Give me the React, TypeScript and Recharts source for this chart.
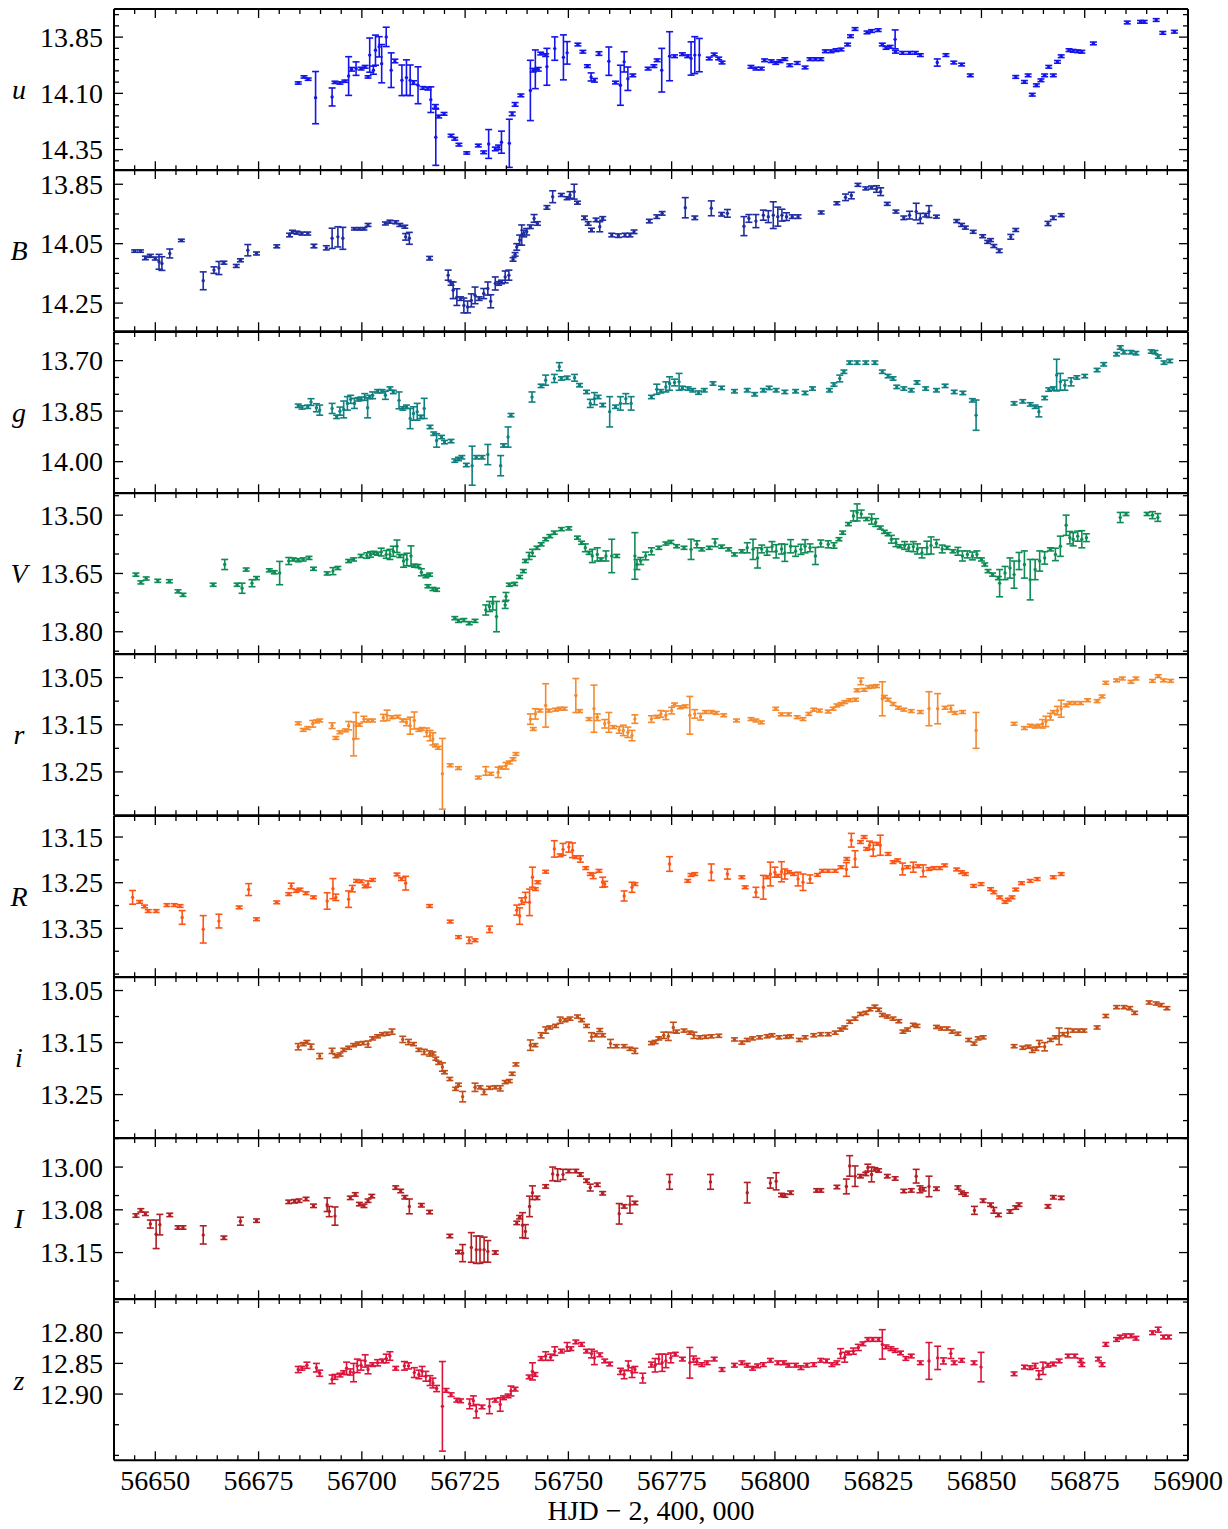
import React from 'react';
import { ScatterChart, Scatter, XAxis, YAxis, ErrorBar } from 'recharts';

type Obs = [number, number, number]; // [HJD-2400000, magnitude, error]

const uObs: Obs[] = [
  [56684.6,14.054,0.005],[56686.0,14.027,0.005],[56687.0,14.037,0.005],[56688.8,14.119,0.116],[56692.8,14.116,0.040],[56693.5,14.051,0.005],[56694.7,14.054,0.005],[56695.9,14.046,0.005],[56696.8,14.023,0.086],[56697.5,13.993,0.008],[56698.6,13.990,0.030],[56699.8,13.990,0.006],[56700.8,13.982,0.006],[56701.5,14.027,0.005],[56701.9,13.930,0.076],[56702.8,13.997,0.018],[56703.3,13.908,0.067],[56704.2,13.893,0.045],[56704.8,13.968,0.085],[56705.9,13.849,0.043],[56707.1,13.997,0.077],[56708.0,13.956,0.008],[56709.7,14.042,0.068],[56710.8,14.030,0.079],[56711.7,14.042,0.068],[56712.5,14.052,0.008],[56713.6,14.064,0.082],[56714.8,14.076,0.006],[56716.0,14.079,0.006],[56716.7,14.128,0.057],[56717.8,14.158,0.008],[56717.9,14.295,0.125],[56718.6,14.203,0.006],[56719.9,14.191,0.006],[56721.6,14.288,0.006],[56722.5,14.302,0.006],[56723.5,14.328,0.006],[56725.4,14.365,0.005],[56728.2,14.332,0.006],[56729.5,14.362,0.006],[56730.7,14.325,0.064],[56732.3,14.347,0.008],[56733.1,14.340,0.010],[56733.8,14.317,0.049],[56735.7,14.322,0.107],[56736.4,14.191,0.008],[56737.1,14.149,0.008],[56738.5,14.109,0.006],[56740.8,14.087,0.134],[56741.5,13.997,0.008],[56742.0,13.993,0.086],[56742.7,13.993,0.008],[56743.3,13.923,0.006],[56744.5,13.930,0.006],[56744.8,13.982,0.082],[56746.7,13.901,0.052],[56748.8,13.940,0.100],[56749.7,13.920,0.050],[56752.3,13.883,0.006],[56753.5,13.915,0.006],[56754.6,13.979,0.006],[56755.5,14.027,0.018],[56756.3,14.042,0.008],[56757.4,13.923,0.008],[56759.8,13.957,0.063],[56761.4,14.052,0.006],[56762.6,14.064,0.089],[56763.5,13.960,0.045],[56764.4,14.035,0.052],[56765.6,14.020,0.006],[56769.3,13.990,0.006],[56770.7,13.979,0.006],[56771.5,13.953,0.006],[56772.6,13.997,0.097],[56774.5,13.935,0.109],[56775.7,13.935,0.006],[56777.6,13.926,0.006],[56778.9,13.935,0.006],[56779.7,13.945,0.074],[56780.6,13.930,0.082],[56781.7,13.930,0.074],[56784.1,13.945,0.006],[56785.3,13.927,0.006],[56786.4,13.945,0.006],[56787.2,13.963,0.006],[56794.2,13.982,0.006],[56795.4,13.990,0.006],[56796.7,13.990,0.006],[56797.5,13.953,0.006],[56799.1,13.957,0.006],[56800.2,13.965,0.006],[56801.2,13.957,0.006],[56802.4,13.948,0.006],[56803.6,13.975,0.006],[56805.4,13.965,0.006],[56807.3,13.985,0.006],[56808.5,13.948,0.006],[56809.8,13.948,0.006],[56811.1,13.948,0.006],[56812.2,13.913,0.006],[56813.6,13.913,0.006],[56814.8,13.908,0.006],[56816.0,13.905,0.006],[56817.6,13.883,0.006],[56818.3,13.846,0.006],[56819.4,13.814,0.006],[56822.3,13.829,0.006],[56823.4,13.823,0.006],[56825.0,13.819,0.006],[56826.0,13.883,0.006],[56826.9,13.898,0.006],[56827.9,13.893,0.006],[56829.1,13.860,0.042],[56829.2,13.915,0.006],[56830.9,13.920,0.006],[56832.6,13.920,0.006],[56834.0,13.920,0.006],[56835.2,13.930,0.006],[56839.3,13.963,0.016],[56841.4,13.930,0.006],[56843.3,13.963,0.006],[56845.2,13.972,0.006],[56847.3,14.020,0.006],[56858.3,14.027,0.006],[56860.4,14.049,0.006],[56861.3,14.020,0.006],[56862.3,14.106,0.006],[56863.3,14.064,0.006],[56864.4,14.042,0.006],[56865.3,14.020,0.006],[56866.3,13.982,0.006],[56867.4,14.020,0.006],[56868.4,13.960,0.006],[56869.3,13.935,0.006],[56871.2,13.908,0.006],[56872.2,13.911,0.006],[56873.3,13.913,0.006],[56874.3,13.915,0.006],[56877.1,13.878,0.006],[56885.3,13.785,0.006],[56888.5,13.782,0.006],[56889.4,13.782,0.006],[56892.3,13.774,0.006],[56893.9,13.831,0.006],[56896.7,13.826,0.006],
];

const bObs: Obs[] = [
  [56645.0,14.075,0.004],[56646.4,14.075,0.004],[56647.6,14.098,0.006],[56648.8,14.091,0.005],[56650.0,14.100,0.005],[56650.9,14.111,0.025],[56651.6,14.117,0.023],[56653.5,14.083,0.015],[56656.3,14.039,0.004],[56661.6,14.175,0.030],[56664.2,14.139,0.011],[56665.4,14.132,0.022],[56666.6,14.114,0.005],[56669.6,14.125,0.005],[56670.6,14.106,0.005],[56672.4,14.072,0.019],[56674.5,14.083,0.005],[56679.4,14.059,0.005],[56682.5,14.021,0.006],[56683.2,14.010,0.005],[56684.3,14.013,0.005],[56685.5,14.016,0.005],[56686.9,14.016,0.005],[56688.4,14.058,0.006],[56691.4,14.064,0.007],[56692.8,14.032,0.034],[56694.2,14.027,0.034],[56695.4,14.032,0.037],[56698.2,14.000,0.004],[56699.4,14.000,0.004],[56700.5,14.000,0.004],[56701.5,13.987,0.005],[56705.7,13.982,0.005],[56706.8,13.976,0.005],[56708.2,13.978,0.005],[56709.2,13.987,0.005],[56710.4,13.993,0.005],[56710.6,14.027,0.011],[56711.5,14.032,0.020],[56716.4,14.099,0.006],[56720.9,14.156,0.017],[56721.6,14.184,0.006],[56722.1,14.207,0.028],[56723.0,14.230,0.028],[56723.9,14.235,0.006],[56724.7,14.258,0.025],[56725.6,14.263,0.020],[56726.5,14.241,0.022],[56727.4,14.224,0.028],[56728.4,14.235,0.006],[56729.5,14.218,0.017],[56730.5,14.201,0.022],[56731.2,14.244,0.022],[56732.3,14.184,0.022],[56733.1,14.184,0.006],[56733.8,14.179,0.006],[56734.7,14.162,0.020],[56735.6,14.156,0.017],[56736.6,14.103,0.006],[56737.1,14.086,0.006],[56737.5,14.061,0.011],[56738.2,14.038,0.017],[56738.7,14.021,0.034],[56739.2,14.016,0.011],[56739.9,14.010,0.011],[56740.8,13.993,0.006],[56741.7,13.965,0.013],[56742.5,13.982,0.006],[56744.8,13.928,0.006],[56746.2,13.892,0.020],[56748.3,13.886,0.005],[56749.7,13.897,0.005],[56750.4,13.886,0.011],[56751.4,13.875,0.025],[56752.2,13.912,0.005],[56753.9,13.963,0.006],[56754.8,13.982,0.006],[56755.6,14.004,0.006],[56756.7,13.970,0.006],[56757.6,13.993,0.017],[56758.3,13.965,0.006],[56760.5,14.021,0.006],[56762.1,14.023,0.006],[56763.7,14.021,0.006],[56764.9,14.021,0.006],[56765.9,14.010,0.006],[56769.6,13.974,0.006],[56771.4,13.959,0.006],[56772.7,13.948,0.006],[56778.3,13.929,0.034],[56780.6,13.963,0.006],[56784.6,13.931,0.025],[56787.1,13.951,0.006],[56788.5,13.948,0.013],[56792.5,13.991,0.032],[56793.7,13.965,0.013],[56795.4,13.974,0.022],[56797.2,13.954,0.017],[56798.4,13.959,0.020],[56799.6,13.954,0.045],[56800.7,13.959,0.032],[56801.7,13.954,0.020],[56802.8,13.959,0.013],[56804.2,13.959,0.006],[56805.6,13.959,0.006],[56811.2,13.945,0.005],[56815.0,13.914,0.005],[56817.1,13.894,0.011],[56818.5,13.888,0.011],[56820.1,13.852,0.005],[56822.0,13.864,0.005],[56823.4,13.861,0.005],[56824.6,13.866,0.011],[56825.6,13.875,0.013],[56827.2,13.916,0.005],[56829.3,13.942,0.005],[56831.2,13.963,0.006],[56832.6,13.954,0.013],[56834.2,13.942,0.028],[56835.2,13.965,0.017],[56836.5,13.954,0.006],[56837.3,13.942,0.020],[56839.1,13.959,0.005],[56844.0,13.974,0.005],[56845.2,13.987,0.005],[56846.1,13.996,0.005],[56848.0,14.010,0.005],[56850.3,14.025,0.005],[56851.5,14.044,0.005],[56852.2,14.038,0.005],[56853.0,14.058,0.005],[56854.3,14.074,0.006],[56857.1,14.027,0.008],[56858.3,14.004,0.005],[56866.1,13.982,0.007],[56867.4,13.963,0.006],[56869.3,13.954,0.005],
];

const gObs: Obs[] = [
  [56684.6,13.834,0.005],[56685.5,13.839,0.005],[56686.9,13.837,0.005],[56687.7,13.823,0.010],[56689.0,13.840,0.012],[56689.8,13.847,0.015],[56692.8,13.842,0.015],[56693.9,13.867,0.005],[56694.7,13.850,0.012],[56695.6,13.845,0.025],[56696.5,13.827,0.020],[56697.3,13.815,0.012],[56698.2,13.827,0.015],[56699.1,13.815,0.005],[56699.8,13.813,0.005],[56700.7,13.808,0.010],[56701.4,13.840,0.030],[56701.9,13.808,0.005],[56702.6,13.803,0.010],[56703.8,13.791,0.005],[56704.9,13.791,0.005],[56705.7,13.803,0.012],[56706.8,13.783,0.005],[56707.6,13.793,0.005],[56709.0,13.818,0.025],[56709.9,13.842,0.005],[56710.8,13.837,0.005],[56711.7,13.872,0.030],[56712.5,13.857,0.020],[56713.4,13.852,0.025],[56714.3,13.867,0.005],[56715.1,13.842,0.030],[56716.5,13.897,0.005],[56717.4,13.917,0.005],[56718.1,13.937,0.020],[56719.3,13.927,0.005],[56720.0,13.942,0.005],[56721.6,13.939,0.005],[56722.5,13.997,0.005],[56723.4,13.992,0.005],[56724.2,13.987,0.005],[56725.3,14.010,0.005],[56726.7,14.012,0.058],[56727.7,13.987,0.005],[56729.1,13.987,0.005],[56730.5,13.979,0.030],[56733.6,14.012,0.030],[56734.3,13.952,0.005],[56735.4,13.927,0.030],[56736.1,13.862,0.005],[56741.2,13.808,0.015],[56743.4,13.775,0.005],[56744.5,13.758,0.015],[56746.6,13.753,0.012],[56747.8,13.718,0.012],[56748.3,13.753,0.005],[56749.7,13.751,0.005],[56751.5,13.751,0.010],[56752.7,13.773,0.005],[56754.4,13.793,0.005],[56755.3,13.827,0.012],[56756.3,13.813,0.018],[56757.2,13.808,0.005],[56758.3,13.832,0.005],[56760.0,13.852,0.045],[56761.4,13.837,0.005],[56762.6,13.827,0.020],[56763.9,13.813,0.015],[56765.2,13.827,0.020],[56770.1,13.808,0.005],[56771.4,13.785,0.015],[56772.4,13.791,0.005],[56773.6,13.778,0.015],[56774.5,13.768,0.020],[56775.7,13.765,0.010],[56776.8,13.763,0.025],[56777.6,13.781,0.005],[56779.0,13.783,0.005],[56780.1,13.788,0.005],[56781.5,13.795,0.005],[56782.9,13.788,0.005],[56785.0,13.768,0.005],[56787.1,13.781,0.005],[56790.2,13.791,0.005],[56793.3,13.788,0.005],[56795.1,13.800,0.005],[56797.2,13.788,0.005],[56798.6,13.781,0.005],[56800.3,13.788,0.005],[56802.4,13.793,0.005],[56805.0,13.791,0.005],[56807.3,13.796,0.005],[56809.1,13.783,0.005],[56813.2,13.788,0.005],[56814.3,13.771,0.005],[56815.7,13.753,0.010],[56816.7,13.733,0.005],[56818.1,13.706,0.005],[56819.9,13.706,0.005],[56822.0,13.706,0.005],[56824.2,13.706,0.005],[56826.0,13.733,0.005],[56827.4,13.746,0.005],[56828.6,13.753,0.005],[56829.5,13.778,0.005],[56831.2,13.783,0.005],[56833.0,13.788,0.005],[56834.4,13.765,0.005],[56836.5,13.783,0.005],[56839.1,13.788,0.005],[56841.2,13.775,0.005],[56843.4,13.793,0.005],[56845.5,13.796,0.005],[56847.8,13.818,0.005],[56848.7,13.862,0.045],[56857.9,13.827,0.005],[56860.0,13.821,0.005],[56861.8,13.830,0.005],[56863.0,13.837,0.005],[56863.9,13.852,0.015],[56865.3,13.811,0.005],[56866.3,13.786,0.005],[56867.4,13.783,0.005],[56868.2,13.743,0.047],[56869.1,13.763,0.025],[56870.2,13.773,0.015],[56871.7,13.763,0.012],[56873.1,13.750,0.005],[56875.0,13.746,0.005],[56878.0,13.728,0.005],[56879.6,13.711,0.005],[56882.7,13.681,0.005],[56883.6,13.661,0.005],[56884.5,13.675,0.005],[56886.2,13.675,0.005],[56887.4,13.678,0.005],[56891.1,13.673,0.005],[56892.0,13.675,0.005],[56892.8,13.688,0.005],[56894.2,13.706,0.005],[56895.6,13.701,0.005],
];

const vObs: Obs[] = [
  [56645.3,13.653,0.004],[56646.5,13.673,0.004],[56647.8,13.663,0.004],[56650.6,13.669,0.004],[56653.4,13.670,0.004],[56655.5,13.696,0.004],[56656.7,13.705,0.004],[56664.0,13.679,0.004],[56666.8,13.627,0.013],[56669.8,13.679,0.004],[56671.0,13.688,0.013],[56672.0,13.640,0.004],[56673.4,13.675,0.009],[56674.5,13.662,0.004],[56677.6,13.642,0.004],[56678.8,13.647,0.004],[56680.1,13.649,0.030],[56682.3,13.618,0.009],[56683.4,13.614,0.004],[56684.6,13.616,0.004],[56685.8,13.614,0.004],[56687.2,13.610,0.004],[56688.3,13.638,0.004],[56691.6,13.650,0.004],[56693.0,13.644,0.009],[56694.2,13.636,0.004],[56696.8,13.618,0.004],[56698.0,13.614,0.004],[56699.8,13.605,0.004],[56701.2,13.604,0.007],[56702.1,13.601,0.007],[56702.9,13.597,0.004],[56703.8,13.599,0.004],[56704.7,13.595,0.010],[56705.9,13.601,0.010],[56706.8,13.601,0.013],[56707.6,13.593,0.013],[56708.5,13.580,0.016],[56709.2,13.605,0.004],[56710.1,13.618,0.016],[56710.9,13.614,0.016],[56711.9,13.605,0.026],[56712.7,13.630,0.004],[56713.6,13.631,0.004],[56714.4,13.647,0.009],[56715.5,13.657,0.004],[56716.4,13.653,0.004],[56716.0,13.683,0.004],[56717.2,13.690,0.004],[56718.1,13.692,0.004],[56722.5,13.765,0.004],[56723.4,13.772,0.004],[56724.7,13.770,0.004],[56726.0,13.778,0.004],[56727.4,13.772,0.004],[56730.0,13.744,0.013],[56730.9,13.735,0.013],[56731.7,13.727,0.017],[56732.6,13.761,0.039],[56734.7,13.731,0.009],[56734.9,13.709,0.010],[56735.7,13.679,0.004],[56737.0,13.677,0.004],[56738.2,13.659,0.004],[56739.1,13.644,0.004],[56739.6,13.618,0.004],[56740.5,13.605,0.009],[56741.3,13.597,0.009],[56742.4,13.584,0.004],[56743.4,13.575,0.004],[56744.5,13.562,0.004],[56745.5,13.554,0.004],[56746.6,13.545,0.004],[56748.3,13.536,0.004],[56750.1,13.534,0.004],[56752.2,13.558,0.004],[56753.2,13.571,0.004],[56754.1,13.584,0.010],[56755.0,13.597,0.004],[56755.8,13.605,0.017],[56757.0,13.601,0.017],[56757.9,13.614,0.004],[56759.1,13.605,0.013],[56760.5,13.605,0.043],[56761.7,13.605,0.004],[56766.1,13.605,0.060],[56766.6,13.627,0.013],[56767.5,13.618,0.009],[56768.7,13.605,0.010],[56770.1,13.593,0.009],[56771.9,13.584,0.004],[56773.6,13.573,0.004],[56774.8,13.569,0.004],[56776.2,13.580,0.004],[56778.0,13.584,0.004],[56779.7,13.588,0.026],[56781.1,13.575,0.009],[56782.3,13.588,0.004],[56784.1,13.584,0.004],[56785.5,13.571,0.010],[56787.1,13.581,0.004],[56788.8,13.588,0.004],[56790.2,13.601,0.004],[56792.0,13.593,0.004],[56793.3,13.584,0.013],[56794.7,13.588,0.026],[56795.8,13.610,0.026],[56796.8,13.587,0.010],[56798.1,13.593,0.010],[56799.3,13.581,0.013],[56800.3,13.593,0.017],[56801.6,13.587,0.013],[56802.4,13.597,0.022],[56803.8,13.580,0.017],[56805.0,13.593,0.013],[56806.3,13.588,0.013],[56807.3,13.580,0.017],[56808.5,13.584,0.010],[56809.8,13.605,0.022],[56811.1,13.573,0.009],[56812.9,13.575,0.009],[56814.3,13.578,0.007],[56815.5,13.562,0.004],[56816.4,13.545,0.004],[56817.8,13.523,0.004],[56819.0,13.502,0.013],[56819.9,13.493,0.022],[56820.9,13.497,0.010],[56822.2,13.510,0.004],[56823.4,13.510,0.013],[56824.4,13.519,0.010],[56825.5,13.532,0.004],[56826.5,13.543,0.004],[56827.4,13.549,0.004],[56828.2,13.562,0.010],[56829.3,13.571,0.010],[56830.3,13.580,0.004],[56831.4,13.578,0.010],[56832.4,13.584,0.009],[56833.5,13.581,0.013],[56834.5,13.587,0.013],[56835.6,13.597,0.013],[56836.8,13.584,0.017],[56837.8,13.578,0.022],[56839.1,13.573,0.010],[56840.5,13.587,0.010],[56841.7,13.584,0.004],[56843.1,13.593,0.004],[56844.3,13.593,0.010],[56845.4,13.605,0.013],[56846.6,13.601,0.009],[56847.8,13.605,0.010],[56848.9,13.601,0.009],[56850.0,13.614,0.004],[56850.8,13.627,0.004],[56851.6,13.644,0.004],[56852.7,13.653,0.004],[56854.1,13.662,0.004],[56854.4,13.675,0.035],[56855.7,13.649,0.017],[56856.9,13.636,0.026],[56857.9,13.653,0.035],[56859.1,13.618,0.022],[56860.4,13.627,0.035],[56861.8,13.666,0.052],[56863.0,13.640,0.026],[56864.1,13.618,0.026],[56865.3,13.610,0.016],[56866.7,13.588,0.004],[56867.9,13.601,0.016],[56869.1,13.580,0.026],[56870.5,13.526,0.026],[56871.4,13.558,0.016],[56872.2,13.562,0.017],[56873.3,13.554,0.013],[56874.3,13.562,0.022],[56875.4,13.558,0.010],[56883.6,13.506,0.013],[56885.0,13.497,0.004],[56890.1,13.497,0.004],[56891.4,13.500,0.009],[56892.7,13.506,0.010],
];

const rObs: Obs[] = [
  [56684.6,13.147,0.003],[56685.8,13.161,0.003],[56686.9,13.157,0.003],[56688.1,13.148,0.007],[56689.0,13.143,0.003],[56689.8,13.141,0.003],[56692.8,13.152,0.006],[56693.7,13.178,0.003],[56694.7,13.166,0.003],[56696.0,13.162,0.003],[56696.8,13.152,0.009],[56698.0,13.180,0.036],[56698.6,13.152,0.028],[56699.4,13.150,0.003],[56700.5,13.138,0.006],[56701.5,13.141,0.003],[56702.6,13.141,0.003],[56705.2,13.135,0.007],[56706.1,13.130,0.011],[56707.3,13.134,0.003],[56708.7,13.133,0.003],[56709.9,13.141,0.003],[56710.8,13.145,0.007],[56711.7,13.152,0.018],[56712.7,13.141,0.018],[56713.8,13.161,0.003],[56714.6,13.159,0.003],[56715.7,13.166,0.009],[56716.5,13.173,0.011],[56717.2,13.180,0.013],[56717.8,13.194,0.003],[56718.5,13.199,0.003],[56719.5,13.254,0.075],[56721.4,13.236,0.003],[56723.4,13.242,0.003],[56728.2,13.262,0.003],[56730.0,13.248,0.009],[56731.2,13.254,0.003],[56733.0,13.251,0.011],[56733.8,13.241,0.003],[56734.9,13.237,0.007],[56735.7,13.230,0.003],[56736.6,13.223,0.003],[56737.3,13.212,0.003],[56740.8,13.138,0.011],[56741.5,13.159,0.003],[56742.0,13.127,0.011],[56743.1,13.120,0.003],[56744.5,13.109,0.046],[56745.3,13.120,0.003],[56746.9,13.118,0.003],[56748.0,13.116,0.003],[56749.0,13.116,0.003],[56751.8,13.088,0.036],[56752.7,13.121,0.003],[56755.0,13.138,0.003],[56756.2,13.116,0.050],[56757.0,13.134,0.007],[56758.8,13.148,0.009],[56759.8,13.145,0.021],[56760.9,13.155,0.003],[56762.3,13.161,0.007],[56763.3,13.162,0.011],[56764.4,13.166,0.011],[56765.4,13.173,0.011],[56766.1,13.138,0.009],[56770.1,13.138,0.007],[56771.4,13.133,0.003],[56772.4,13.127,0.007],[56773.6,13.130,0.009],[56775.0,13.120,0.007],[56775.7,13.107,0.003],[56777.1,13.113,0.003],[56778.3,13.111,0.003],[56779.4,13.130,0.040],[56780.6,13.127,0.009],[56782.0,13.133,0.007],[56783.2,13.123,0.003],[56784.6,13.123,0.003],[56785.8,13.125,0.003],[56787.6,13.130,0.003],[56790.7,13.141,0.003],[56794.2,13.138,0.003],[56795.4,13.141,0.003],[56796.7,13.145,0.003],[56800.2,13.116,0.003],[56801.6,13.128,0.003],[56803.3,13.128,0.003],[56805.4,13.134,0.003],[56806.8,13.138,0.003],[56808.2,13.127,0.003],[56809.4,13.118,0.003],[56810.8,13.120,0.003],[56812.9,13.122,0.003],[56814.1,13.116,0.003],[56815.0,13.109,0.003],[56816.0,13.106,0.003],[56816.9,13.102,0.003],[56818.1,13.098,0.003],[56819.5,13.097,0.003],[56819.9,13.077,0.003],[56820.8,13.058,0.007],[56821.6,13.076,0.003],[56822.7,13.070,0.003],[56823.7,13.069,0.003],[56824.6,13.068,0.003],[56826.0,13.095,0.036],[56826.5,13.091,0.003],[56827.4,13.097,0.003],[56828.6,13.106,0.003],[56829.9,13.114,0.003],[56831.2,13.118,0.003],[56833.0,13.121,0.003],[56835.2,13.123,0.003],[56837.3,13.116,0.036],[56839.4,13.116,0.032],[56841.2,13.114,0.003],[56842.6,13.116,0.007],[56843.6,13.125,0.003],[56845.4,13.123,0.003],[56848.7,13.162,0.038],[56857.9,13.148,0.003],[56860.4,13.157,0.003],[56861.8,13.152,0.003],[56863.0,13.154,0.003],[56863.9,13.152,0.003],[56864.8,13.148,0.009],[56865.6,13.143,0.011],[56866.7,13.133,0.007],[56867.4,13.123,0.003],[56868.4,13.120,0.009],[56869.3,13.116,0.018],[56870.5,13.109,0.003],[56871.4,13.104,0.003],[56872.6,13.104,0.003],[56874.0,13.104,0.003],[56875.7,13.098,0.003],[56878.0,13.100,0.003],[56879.2,13.090,0.003],[56880.1,13.061,0.003],[56882.7,13.056,0.003],[56884.1,13.052,0.003],[56886.2,13.059,0.003],[56887.4,13.052,0.003],[56891.4,13.057,0.003],[56892.8,13.047,0.003],[56894.1,13.056,0.003],[56895.8,13.057,0.003],
];

const bigRObs: Obs[] = [
  [56644.5,13.282,0.015],[56646.2,13.292,0.003],[56647.4,13.302,0.003],[56648.3,13.312,0.003],[56650.2,13.312,0.003],[56652.8,13.299,0.003],[56654.6,13.299,0.003],[56656.0,13.301,0.003],[56656.5,13.326,0.015],[56661.6,13.352,0.030],[56665.4,13.334,0.015],[56670.3,13.304,0.003],[56672.6,13.265,0.013],[56674.5,13.330,0.003],[56679.4,13.293,0.003],[56682.3,13.275,0.003],[56682.9,13.257,0.006],[56684.1,13.268,0.003],[56685.0,13.265,0.003],[56686.5,13.273,0.003],[56688.3,13.282,0.003],[56691.6,13.290,0.018],[56693.0,13.263,0.022],[56693.7,13.282,0.007],[56696.8,13.286,0.018],[56697.7,13.263,0.007],[56698.7,13.246,0.003],[56699.8,13.247,0.003],[56700.8,13.258,0.003],[56701.5,13.253,0.007],[56702.6,13.244,0.003],[56708.5,13.232,0.003],[56709.6,13.242,0.003],[56710.6,13.251,0.015],[56716.4,13.301,0.003],[56721.4,13.335,0.003],[56723.4,13.369,0.003],[56726.0,13.376,0.007],[56727.4,13.376,0.003],[56730.9,13.352,0.007],[56737.5,13.310,0.011],[56738.2,13.323,0.018],[56738.7,13.290,0.007],[56739.6,13.282,0.011],[56740.6,13.293,0.029],[56741.3,13.238,0.022],[56742.0,13.264,0.003],[56742.6,13.249,0.003],[56744.5,13.226,0.003],[56746.6,13.176,0.018],[56748.0,13.190,0.003],[56748.7,13.177,0.013],[56750.1,13.172,0.011],[56751.0,13.179,0.016],[56751.8,13.194,0.003],[56752.9,13.198,0.007],[56754.2,13.218,0.003],[56755.3,13.231,0.003],[56756.0,13.235,0.006],[56757.4,13.224,0.003],[56758.3,13.249,0.011],[56758.8,13.253,0.006],[56763.5,13.279,0.011],[56765.4,13.260,0.011],[56766.1,13.253,0.003],[56774.5,13.209,0.016],[56778.9,13.246,0.003],[56779.7,13.233,0.003],[56780.6,13.231,0.003],[56784.6,13.227,0.018],[56788.5,13.231,0.011],[56792.0,13.238,0.003],[56792.8,13.260,0.003],[56795.4,13.271,0.011],[56797.2,13.260,0.026],[56798.1,13.238,0.003],[56798.9,13.231,0.026],[56800.0,13.227,0.011],[56800.7,13.235,0.003],[56801.6,13.226,0.022],[56802.4,13.231,0.011],[56803.3,13.227,0.003],[56804.5,13.231,0.003],[56805.6,13.242,0.015],[56806.8,13.249,0.018],[56808.5,13.242,0.009],[56810.3,13.233,0.003],[56811.5,13.224,0.003],[56812.9,13.224,0.003],[56814.6,13.224,0.003],[56816.0,13.216,0.003],[56817.4,13.198,0.003],[56817.3,13.221,0.015],[56818.5,13.157,0.015],[56819.4,13.198,0.018],[56820.7,13.161,0.003],[56821.6,13.150,0.003],[56822.2,13.176,0.003],[56822.9,13.168,0.009],[56823.8,13.177,0.015],[56824.8,13.165,0.003],[56825.5,13.168,0.022],[56827.4,13.187,0.003],[56828.6,13.205,0.003],[56829.7,13.201,0.003],[56830.9,13.220,0.013],[56832.1,13.216,0.003],[56833.5,13.216,0.011],[56834.7,13.214,0.003],[56835.9,13.224,0.013],[56837.3,13.220,0.003],[56838.5,13.218,0.003],[56839.9,13.218,0.003],[56841.1,13.212,0.003],[56844.0,13.221,0.003],[56845.2,13.227,0.003],[56846.1,13.231,0.003],[56848.1,13.257,0.003],[56849.9,13.253,0.003],[56852.2,13.264,0.003],[56853.0,13.271,0.003],[56854.4,13.282,0.003],[56855.7,13.292,0.003],[56856.5,13.287,0.003],[56857.4,13.282,0.003],[56858.3,13.265,0.003],[56859.7,13.251,0.003],[56861.8,13.246,0.003],[56863.5,13.242,0.003],[56867.4,13.238,0.003],[56869.3,13.231,0.003],
];

const iObs: Obs[] = [
  [56684.6,13.158,0.006],[56685.8,13.153,0.003],[56686.7,13.149,0.003],[56687.7,13.158,0.005],[56689.8,13.176,0.005],[56692.8,13.166,0.005],[56693.7,13.176,0.003],[56694.7,13.173,0.003],[56695.6,13.164,0.003],[56696.8,13.160,0.003],[56698.0,13.155,0.003],[56699.1,13.152,0.003],[56700.3,13.151,0.003],[56701.5,13.153,0.006],[56702.6,13.142,0.003],[56703.8,13.138,0.003],[56705.0,13.134,0.003],[56706.1,13.133,0.003],[56707.3,13.129,0.005],[56709.9,13.144,0.006],[56711.3,13.149,0.005],[56712.5,13.153,0.003],[56713.8,13.164,0.003],[56715.1,13.168,0.005],[56716.4,13.171,0.005],[56717.2,13.171,0.003],[56717.9,13.181,0.003],[56718.6,13.189,0.003],[56719.5,13.197,0.008],[56720.0,13.207,0.003],[56721.3,13.220,0.003],[56722.7,13.239,0.003],[56723.4,13.231,0.003],[56724.4,13.254,0.010],[56727.4,13.236,0.008],[56728.6,13.236,0.003],[56729.6,13.245,0.005],[56730.9,13.237,0.003],[56732.3,13.236,0.003],[56733.5,13.238,0.005],[56734.7,13.226,0.003],[56735.7,13.224,0.003],[56736.4,13.210,0.003],[56737.3,13.192,0.003],[56740.8,13.155,0.010],[56741.9,13.155,0.003],[56743.4,13.136,0.005],[56744.5,13.126,0.006],[56745.5,13.121,0.003],[56746.9,13.118,0.003],[56748.0,13.107,0.006],[56749.2,13.107,0.003],[56750.4,13.104,0.003],[56752.2,13.100,0.003],[56753.2,13.107,0.003],[56754.4,13.118,0.003],[56755.6,13.139,0.008],[56756.7,13.136,0.003],[56757.6,13.126,0.003],[56758.3,13.136,0.003],[56760.2,13.152,0.008],[56761.6,13.157,0.003],[56763.5,13.157,0.003],[56764.9,13.162,0.003],[56766.1,13.166,0.005],[56770.1,13.151,0.003],[56771.0,13.149,0.003],[56771.9,13.142,0.003],[56773.1,13.136,0.006],[56774.2,13.138,0.008],[56775.4,13.121,0.010],[56776.2,13.129,0.003],[56778.0,13.127,0.003],[56779.4,13.131,0.003],[56780.4,13.136,0.006],[56781.8,13.140,0.003],[56783.2,13.139,0.003],[56784.6,13.138,0.003],[56786.4,13.137,0.003],[56790.2,13.144,0.003],[56792.0,13.150,0.003],[56793.3,13.145,0.003],[56794.6,13.142,0.003],[56796.3,13.140,0.003],[56798.1,13.138,0.003],[56799.3,13.136,0.003],[56801.0,13.140,0.003],[56802.8,13.139,0.003],[56803.8,13.138,0.003],[56805.9,13.145,0.003],[56807.3,13.140,0.003],[56809.4,13.136,0.003],[56811.1,13.134,0.003],[56812.9,13.134,0.003],[56814.6,13.131,0.003],[56815.9,13.125,0.003],[56816.9,13.121,0.003],[56818.1,13.110,0.003],[56819.4,13.104,0.003],[56820.7,13.095,0.003],[56822.0,13.093,0.003],[56823.0,13.086,0.003],[56824.2,13.081,0.003],[56825.1,13.087,0.003],[56826.0,13.097,0.003],[56827.2,13.100,0.003],[56828.6,13.104,0.003],[56830.0,13.109,0.003],[56831.0,13.129,0.003],[56832.1,13.125,0.003],[56833.5,13.116,0.003],[56834.4,13.118,0.003],[56839.1,13.120,0.003],[56840.3,13.123,0.003],[56841.7,13.123,0.003],[56842.9,13.129,0.003],[56844.3,13.133,0.003],[56846.9,13.145,0.003],[56848.2,13.152,0.003],[56849.2,13.142,0.003],[56850.4,13.140,0.003],[56857.9,13.157,0.003],[56860.0,13.160,0.003],[56861.3,13.158,0.003],[56862.3,13.164,0.005],[56863.2,13.162,0.003],[56864.0,13.152,0.006],[56865.3,13.158,0.008],[56866.7,13.145,0.003],[56867.9,13.140,0.003],[56868.8,13.138,0.016],[56869.8,13.134,0.003],[56870.9,13.131,0.008],[56872.2,13.127,0.003],[56873.6,13.127,0.003],[56874.8,13.127,0.003],[56878.0,13.121,0.003],[56880.1,13.099,0.003],[56882.7,13.082,0.003],[56884.5,13.082,0.003],[56885.9,13.084,0.003],[56887.1,13.093,0.003],[56890.6,13.073,0.003],[56892.3,13.075,0.003],[56893.5,13.078,0.003],[56894.9,13.084,0.003],
];

const bigIObs: Obs[] = [
  [56645.3,13.085,0.003],[56646.5,13.076,0.003],[56647.6,13.082,0.003],[56648.8,13.100,0.007],[56650.2,13.118,0.025],[56651.1,13.101,0.018],[56653.5,13.084,0.003],[56655.5,13.106,0.003],[56656.7,13.106,0.003],[56661.6,13.119,0.016],[56666.6,13.124,0.003],[56670.6,13.095,0.007],[56674.5,13.094,0.003],[56682.3,13.061,0.003],[56683.7,13.060,0.003],[56684.8,13.059,0.003],[56686.5,13.056,0.003],[56688.3,13.068,0.003],[56691.6,13.066,0.012],[56692.1,13.078,0.009],[56693.5,13.086,0.016],[56697.2,13.054,0.003],[56698.4,13.048,0.003],[56699.4,13.065,0.003],[56700.5,13.068,0.003],[56701.5,13.059,0.003],[56702.4,13.051,0.003],[56708.2,13.036,0.003],[56709.4,13.042,0.003],[56710.4,13.053,0.003],[56711.5,13.069,0.013],[56714.4,13.067,0.003],[56716.4,13.079,0.003],[56721.3,13.121,0.003],[56723.4,13.149,0.003],[56724.4,13.151,0.015],[56726.5,13.141,0.026],[56727.7,13.145,0.024],[56728.6,13.145,0.024],[56729.6,13.145,0.022],[56730.5,13.148,0.019],[56732.3,13.150,0.003],[56737.5,13.098,0.003],[56738.2,13.088,0.003],[56738.9,13.102,0.022],[56739.6,13.113,0.012],[56740.6,13.069,0.018],[56741.3,13.045,0.012],[56742.4,13.054,0.003],[56744.5,13.034,0.003],[56746.2,13.012,0.012],[56747.4,13.014,0.011],[56748.7,13.013,0.009],[56750.1,13.007,0.003],[56751.8,13.007,0.003],[56752.9,13.013,0.003],[56754.4,13.024,0.003],[56755.3,13.036,0.006],[56757.0,13.031,0.003],[56758.3,13.046,0.003],[56762.3,13.082,0.018],[56763.5,13.069,0.003],[56764.9,13.066,0.015],[56766.1,13.063,0.003],[56774.5,13.026,0.013],[56784.4,13.026,0.013],[56793.3,13.045,0.018],[56798.9,13.028,0.009],[56800.3,13.025,0.015],[56801.6,13.049,0.003],[56802.4,13.050,0.003],[56803.8,13.045,0.003],[56810.1,13.041,0.003],[56811.1,13.041,0.003],[56815.0,13.035,0.003],[56817.3,13.034,0.013],[56818.1,12.998,0.018],[56819.4,13.016,0.018],[56820.7,13.016,0.003],[56822.0,13.012,0.003],[56822.5,13.001,0.006],[56823.4,13.013,0.013],[56824.2,13.004,0.003],[56825.1,13.006,0.003],[56827.2,13.016,0.003],[56829.1,13.020,0.003],[56831.2,13.042,0.003],[56833.0,13.041,0.003],[56834.2,13.016,0.012],[56835.1,13.039,0.006],[56835.9,13.039,0.003],[56837.3,13.034,0.018],[56839.1,13.038,0.003],[56844.3,13.036,0.003],[56845.2,13.045,0.003],[56846.1,13.048,0.003],[56848.3,13.076,0.007],[56850.4,13.059,0.003],[56852.2,13.066,0.003],[56853.0,13.076,0.005],[56854.1,13.084,0.003],[56856.9,13.078,0.003],[56858.3,13.071,0.003],[56859.1,13.066,0.003],[56866.1,13.069,0.003],[56867.4,13.053,0.003],[56869.3,13.054,0.003],
];

const zObs: Obs[] = [
  [56684.6,12.860,0.005],[56685.5,12.858,0.003],[56686.7,12.853,0.005],[56689.0,12.857,0.007],[56689.8,12.866,0.005],[56692.8,12.876,0.007],[56693.5,12.872,0.004],[56694.7,12.869,0.003],[56695.6,12.865,0.003],[56696.3,12.858,0.010],[56697.2,12.864,0.005],[56698.0,12.865,0.015],[56698.9,12.854,0.011],[56699.8,12.853,0.008],[56700.8,12.846,0.010],[56701.5,12.860,0.007],[56702.6,12.852,0.003],[56703.8,12.849,0.005],[56705.0,12.846,0.003],[56705.9,12.842,0.007],[56706.8,12.838,0.007],[56708.2,12.858,0.003],[56710.3,12.854,0.007],[56711.3,12.854,0.005],[56712.7,12.865,0.008],[56713.8,12.868,0.007],[56714.6,12.863,0.008],[56715.5,12.871,0.008],[56716.5,12.878,0.008],[56717.2,12.882,0.008],[56718.1,12.891,0.005],[56719.5,12.920,0.073],[56720.4,12.894,0.003],[56721.6,12.901,0.003],[56723.0,12.910,0.003],[56723.9,12.911,0.003],[56726.1,12.916,0.008],[56727.0,12.911,0.008],[56727.7,12.928,0.011],[56729.1,12.921,0.003],[56730.9,12.920,0.012],[56732.3,12.910,0.003],[56733.5,12.917,0.011],[56734.3,12.906,0.003],[56735.4,12.903,0.003],[56736.1,12.895,0.008],[56737.1,12.892,0.003],[56740.5,12.872,0.003],[56741.3,12.863,0.014],[56741.9,12.868,0.003],[56743.4,12.842,0.003],[56744.5,12.838,0.007],[56745.7,12.840,0.005],[56746.7,12.830,0.007],[56748.3,12.830,0.003],[56749.7,12.823,0.007],[56750.6,12.826,0.003],[56751.8,12.815,0.003],[56753.2,12.819,0.003],[56754.4,12.830,0.003],[56755.6,12.834,0.007],[56756.3,12.841,0.011],[56757.6,12.836,0.003],[56758.8,12.846,0.003],[56760.0,12.851,0.003],[56762.6,12.863,0.005],[56763.5,12.868,0.007],[56764.5,12.854,0.008],[56765.4,12.865,0.008],[56766.1,12.860,0.005],[56768.0,12.874,0.008],[56770.1,12.852,0.004],[56771.0,12.853,0.011],[56771.9,12.843,0.008],[56772.7,12.849,0.014],[56773.6,12.846,0.011],[56774.8,12.841,0.008],[56775.9,12.835,0.003],[56777.6,12.843,0.003],[56779.4,12.849,0.025],[56780.3,12.843,0.005],[56781.1,12.847,0.005],[56782.3,12.852,0.003],[56783.6,12.849,0.003],[56785.3,12.843,0.003],[56787.2,12.860,0.003],[56790.2,12.853,0.003],[56792.0,12.849,0.003],[56793.3,12.853,0.003],[56794.6,12.858,0.003],[56795.8,12.854,0.003],[56797.2,12.852,0.003],[56798.9,12.845,0.003],[56800.7,12.849,0.003],[56802.1,12.849,0.003],[56803.3,12.853,0.003],[56805.0,12.853,0.003],[56806.3,12.857,0.003],[56807.7,12.853,0.003],[56809.4,12.852,0.003],[56811.1,12.845,0.003],[56812.5,12.846,0.003],[56813.8,12.852,0.003],[56815.0,12.849,0.003],[56815.9,12.834,0.008],[56816.9,12.840,0.008],[56817.8,12.833,0.003],[56819.0,12.830,0.005],[56820.2,12.824,0.005],[56821.3,12.818,0.003],[56822.5,12.811,0.003],[56823.7,12.811,0.003],[56825.1,12.811,0.003],[56826.0,12.819,0.024],[56826.9,12.823,0.003],[56828.1,12.826,0.003],[56829.1,12.829,0.003],[56830.4,12.833,0.003],[56831.7,12.842,0.003],[56833.0,12.838,0.003],[56835.2,12.849,0.003],[56837.3,12.846,0.030],[56839.4,12.841,0.019],[56840.8,12.846,0.005],[56842.6,12.834,0.008],[56843.4,12.849,0.003],[56845.2,12.845,0.003],[56848.2,12.849,0.003],[56849.9,12.856,0.024],[56857.9,12.867,0.003],[56860.4,12.856,0.003],[56861.8,12.857,0.003],[56863.0,12.854,0.004],[56863.9,12.869,0.007],[56864.9,12.858,0.010],[56866.1,12.853,0.003],[56867.4,12.851,0.003],[56868.8,12.846,0.003],[56871.0,12.838,0.003],[56872.6,12.838,0.003],[56874.0,12.845,0.003],[56874.3,12.852,0.003],[56878.3,12.843,0.003],[56879.2,12.852,0.003],[56880.1,12.819,0.003],[56882.7,12.811,0.003],[56883.6,12.807,0.003],[56884.9,12.805,0.003],[56886.2,12.805,0.003],[56887.4,12.809,0.003],[56891.4,12.800,0.003],[56892.8,12.795,0.004],[56894.1,12.807,0.003],[56895.3,12.807,0.003],
];

const bandNames = ['u', 'B', 'g', 'V', 'r', 'R', 'i', 'I', 'z'];
const bandSeries = [uObs, bObs, gObs, vObs, rObs, bigRObs, iObs, bigIObs, zObs];
const bandColors = ['#1414ee', '#1f2da0', '#108080', '#0e8c55', '#f5892e', '#fb5616', '#c24f19', '#b21f24', '#dc143c'];
const yDomains: [number, number][] = [
  [13.725, 14.442], [13.802, 14.345], [13.615, 14.094], [13.443, 13.858], [13.0, 13.342],
  [13.104, 13.457], [13.024, 13.334], [12.949, 13.232], [12.745, 13.008],
];
const yMajors = [
  [13.85, 14.10, 14.35], [13.85, 14.05, 14.25], [13.70, 13.85, 14.00], [13.50, 13.65, 13.80], [13.05, 13.15, 13.25],
  [13.15, 13.25, 13.35], [13.05, 13.15, 13.25], [13.00, 13.075, 13.15], [12.80, 12.85, 12.90],
];
const yMajorLabels = [
  ['13.85', '14.10', '14.35'], ['13.85', '14.05', '14.25'], ['13.70', '13.85', '14.00'], ['13.50', '13.65', '13.80'], ['13.05', '13.15', '13.25'],
  ['13.15', '13.25', '13.35'], ['13.05', '13.15', '13.25'], ['13.00', '13.08', '13.15'], ['12.80', '12.85', '12.90'],
];
const xDomain: [number, number] = [56640, 56900];
const xMajors = [56650, 56675, 56700, 56725, 56750, 56775, 56800, 56825, 56850, 56875, 56900];
const xMajorLabels = ['56650', '56675', '56700', '56725', '56750', '56775', '56800', '56825', '56850', '56875', '56900'];
const xLabel = 'HJD \u2212 2, 400, 000';

const FONT = '"Liberation Serif", "Times New Roman", Times, serif';
const FS = 28;
const W = 1228;
const PANEL_TOP = 9;
const PANEL_H = 161.3;
const LEFT_W = 114;
const RIGHT_W = 40;
const EDGE_H = 3;
const BOTTOM_AXIS_H = 70;
const MAJOR_LEN = 9;
const MINOR_LEN = 5;

function stepTicks(lo: number, hi: number, step: number, extra: number[]) {
  const out: number[] = [];
  const s = Math.ceil(lo / step - 1e-9);
  const e = Math.floor(hi / step + 1e-9);
  for (let i = s; i <= e; i++) out.push(Math.round(i * step * 1000) / 1000);
  extra.forEach((v) => {
    if (!out.some((o) => Math.abs(o - v) < 1e-6)) out.push(v);
  });
  return out.sort((a, b) => a - b);
}

const xTicks = stepTicks(xDomain[0], xDomain[1], 5, xMajors);

function findIdx(arr: number[], v: number) {
  return arr.findIndex((m) => Math.abs(m - v) < 1e-6);
}

const makeYTick = (side: 'left' | 'right', majors: number[], labels: string[]) => (p: any) => {
  const v = p.payload.value;
  const idx = findIdx(majors, v);
  const len = idx >= 0 ? MAJOR_LEN : MINOR_LEN;
  const d = side === 'left' ? 1 : -1;
  return (
    <g>
      <line x1={p.x} y1={p.y} x2={p.x + d * len} y2={p.y} stroke="#000" strokeWidth={1.3} />
      {side === 'left' && idx >= 0 ? (
        <text x={p.x - 11} y={p.y} textAnchor="end" dominantBaseline="central" fontFamily={FONT} fontSize={FS} fill="#000">
          {labels[idx]}
        </text>
      ) : null}
    </g>
  );
};

const makeXTick = (side: 'top' | 'bottom', showLabels: boolean) => (p: any) => {
  const v = p.payload.value;
  const idx = findIdx(xMajors, v);
  const len = idx >= 0 ? MAJOR_LEN : MINOR_LEN;
  const d = side === 'bottom' ? -1 : 1;
  return (
    <g>
      <line x1={p.x} y1={p.y} x2={p.x} y2={p.y + d * len} stroke="#000" strokeWidth={1.3} />
      {showLabels && side === 'bottom' && idx >= 0 ? (
        <text x={p.x} y={p.y + 30} textAnchor="middle" fontFamily={FONT} fontSize={FS} fill="#000">
          {xMajorLabels[idx]}
        </text>
      ) : null}
    </g>
  );
};

function Panel({ k }: { k: number }) {
  const isLast = k === bandNames.length - 1;
  const top = PANEL_TOP + k * PANEL_H;
  const bottomH = isLast ? BOTTOM_AXIS_H : EDGE_H;
  const height = PANEL_H + EDGE_H + bottomH;
  const color = bandColors[k];
  const dom = yDomains[k];
  const yTicks = stepTicks(dom[0], dom[1], 0.05, yMajors[k]);
  const data = bandSeries[k].map(([t, m, e]) => ({ t, m, e }));
  const axisLine = { stroke: '#000', strokeWidth: 2 };
  const dot = (p: any) => <circle cx={p.cx} cy={p.cy} r={1.7} fill={color} />;
  const hidden = () => <g />;
  return (
    <div style={{ position: 'absolute', left: 0, top: top - EDGE_H }}>
      <ScatterChart width={W} height={height} margin={{ top: 0, right: 0, bottom: 0, left: 0 }}>
        <XAxis
          xAxisId="b" dataKey="t" type="number" orientation="bottom" domain={xDomain} allowDataOverflow
          ticks={xTicks} interval={0} height={bottomH} tickSize={0} tickMargin={0} tickLine={false}
          axisLine={axisLine} tick={makeXTick('bottom', isLast)}
        />
        <XAxis
          xAxisId="t" dataKey="t" type="number" orientation="top" domain={xDomain} allowDataOverflow
          ticks={xTicks} interval={0} height={EDGE_H} tickSize={0} tickMargin={0} tickLine={false}
          axisLine={axisLine} tick={makeXTick('top', false)}
        />
        <YAxis
          yAxisId="l" dataKey="m" type="number" orientation="left" domain={dom} reversed allowDataOverflow
          ticks={yTicks} interval={0} width={LEFT_W} tickSize={0} tickMargin={0} tickLine={false}
          axisLine={axisLine} tick={makeYTick('left', yMajors[k], yMajorLabels[k])}
        />
        <YAxis
          yAxisId="r" dataKey="m" type="number" orientation="right" domain={dom} reversed allowDataOverflow
          ticks={yTicks} interval={0} width={RIGHT_W} tickSize={0} tickMargin={0} tickLine={false}
          axisLine={axisLine} tick={makeYTick('right', yMajors[k], yMajorLabels[k])}
        />
        <Scatter xAxisId="t" yAxisId="r" data={data} shape={hidden} isAnimationActive={false} />
        <Scatter xAxisId="b" yAxisId="l" data={data} fill={color} shape={dot} isAnimationActive={false}>
          <ErrorBar dataKey="e" direction="y" width={3.5} stroke={color} strokeWidth={1.6} />
        </Scatter>
      </ScatterChart>
    </div>
  );
}

export default function App() {
  const plotCenterX = LEFT_W + (W - LEFT_W - RIGHT_W) / 2;
  const bottomY = PANEL_TOP + bandNames.length * PANEL_H;
  return (
    <div style={{ position: 'absolute', left: 0, top: 0, width: W, height: 1529, background: '#fff' }}>
      {bandNames.map((_, k) => (
        <Panel key={k} k={k} />
      ))}
      <svg width={W} height={1529} style={{ position: 'absolute', left: 0, top: 0, pointerEvents: 'none' }}>
        {bandNames.map((b, k) => (
          <text
            key={b + k} x={19} y={PANEL_TOP + k * PANEL_H + PANEL_H / 2} textAnchor="middle" dominantBaseline="central"
            fontFamily={FONT} fontStyle="italic" fontSize={FS} fill="#000"
          >
            {b}
          </text>
        ))}
        <text x={plotCenterX} y={bottomY + 59} textAnchor="middle" fontFamily={FONT} fontSize={FS} fill="#000">
          {xLabel}
        </text>
      </svg>
    </div>
  );
}
